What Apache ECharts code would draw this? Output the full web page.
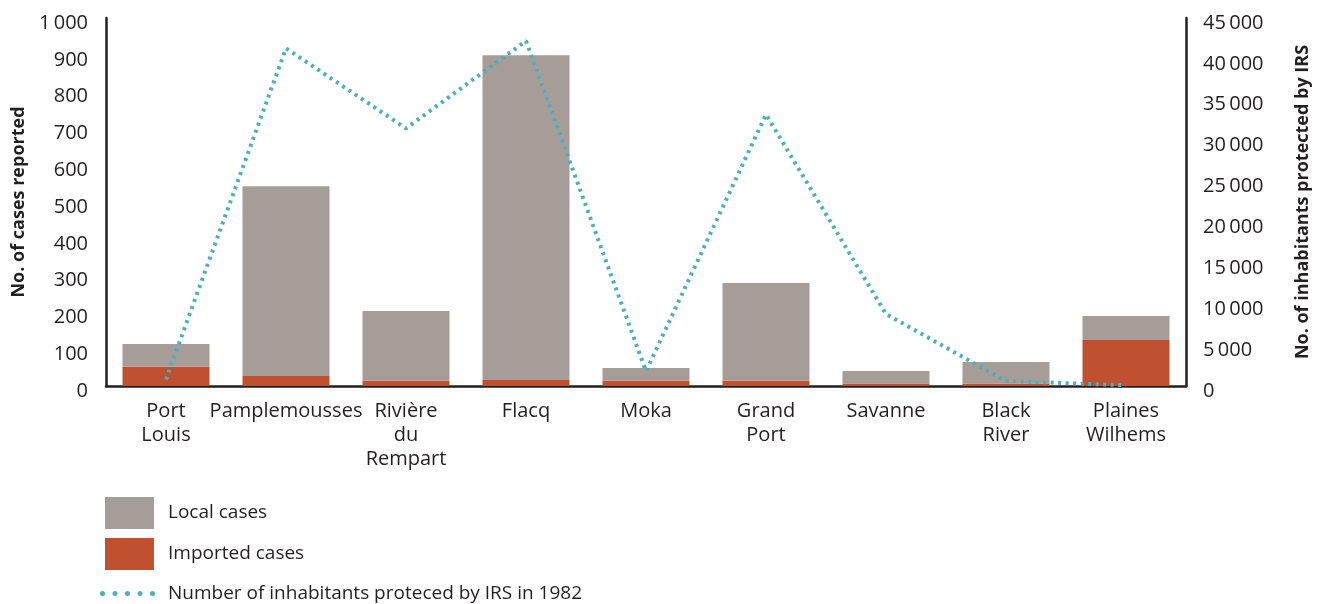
<!DOCTYPE html>
<html>
<head>
<meta charset="utf-8">
<script src="https://cdn.jsdelivr.net/npm/echarts@6/dist/echarts.min.js"></script>
<style>
  html, body { margin: 0; padding: 0; background: #fff; }
  #chart { width: 1327px; height: 604px; }
</style>
</head>
<body>
<div id="chart"></div>
<script>
const districts = ['Port\nLouis', 'Pamplemousses', 'Rivière\ndu\nRempart', 'Flacq', 'Moka', 'Grand\nPort', 'Savanne', 'Black\nRiver', 'Plaines\nWilhems']
const importedCases = [52, 27, 14, 16, 14, 14, 7, 7, 125]
const localCases = [62, 516, 190, 883, 35, 266, 34, 58, 65]
const inhabitantsIRS = [800, 41300, 31500, 42200, 1800, 33200, 8800, 600, 100]

const ink = '#231f20'
const font = '"Open Sans", "Noto Sans", sans-serif'

function spaced(v) {
  return String(v).replace(/\B(?=(\d{3})+(?!\d))/g, '\u2009')
}

// five round dots for the line legend
let dots = ''
for (let i = 0; i < 5; i++) {
  const cx = 2.5 + i * 12.5
  dots += 'M' + (cx - 2.5) + ',2.5a2.5,2.5 0 1,0 5,0a2.5,2.5 0 1,0 -5,0'
}

const chart = echarts.init(document.getElementById('chart'))

const option = {
  animation: false,
  textStyle: { fontFamily: font, color: ink },
  grid: { left: 106, right: 141, top: 18, bottom: 218 },
  legend: [
    {
      data: [{ name: 'Local cases', icon: 'rect' }, { name: 'Imported cases', icon: 'rect' }],
      orient: 'vertical',
      left: 105,
      top: 497,
      padding: 0,
      itemWidth: 49,
      itemHeight: 32,
      itemGap: 9,
      selectedMode: false,
      textStyle: { fontSize: 19, color: ink, padding: [0, 0, 0, 9] }
    },
    {
      data: [{ name: 'Number of inhabitants proteced by IRS in 1982', icon: 'path://' + dots,
               itemStyle: { color: '#4daebd', borderWidth: 0 }, lineStyle: { width: 0 } }],
      left: 100,
      top: 584,
      padding: 0,
      itemWidth: 55,
      itemHeight: 5,
      selectedMode: false,
      textStyle: { fontSize: 19, color: ink, padding: [0, 0, 0, 8] }
    }
  ],
  xAxis: {
    type: 'category',
    data: districts,
    axisLine: { lineStyle: { color: ink, width: 2.5 } },
    axisTick: { inside: true, length: 9, lineStyle: { color: ink, width: 2 } },
    axisLabel: { interval: 0, fontSize: 20, lineHeight: 24, color: ink, margin: 13 }
  },
  yAxis: [
    {
      type: 'value',
      min: 0,
      max: 1000,
      interval: 100,
      name: 'No. of cases reported',
      nameLocation: 'middle',
      nameRotate: 90,
      nameGap: 76,
      nameTextStyle: { fontSize: 18, fontWeight: 'bold', color: ink },
      axisLine: { show: true, lineStyle: { color: ink, width: 2.5 } },
      axisTick: { show: false },
      splitLine: { show: false },
      axisLabel: { fontSize: 20, color: ink, margin: 18, verticalAlign: 'top', lineHeight: 10, formatter: spaced }
    },
    {
      type: 'value',
      min: 0,
      max: 45000,
      interval: 5000,
      name: 'No. of inhabitants protected by IRS',
      nameLocation: 'middle',
      nameRotate: 90,
      nameGap: 108,
      nameTextStyle: { fontSize: 18, fontWeight: 'bold', color: ink },
      axisLine: { show: true, lineStyle: { color: ink, width: 2.5 } },
      axisTick: { show: false },
      splitLine: { show: false },
      axisLabel: { fontSize: 20, color: ink, margin: 17, verticalAlign: 'top', lineHeight: 10, formatter: spaced }
    }
  ],
  series: [
    {
      name: 'Imported cases',
      type: 'bar',
      stack: 'cases',
      barWidth: '72.5%',
      data: importedCases,
      itemStyle: { color: '#bf5030' }
    },
    {
      name: 'Local cases',
      type: 'bar',
      stack: 'cases',
      data: localCases,
      itemStyle: { color: '#a69c98' }
    },
    {
      name: 'Number of inhabitants proteced by IRS in 1982',
      type: 'line',
      yAxisIndex: 1,
      data: inhabitantsIRS,
      symbol: 'none',
      z: 5,
      itemStyle: { color: '#4daebd' },
      lineStyle: { color: '#4daebd', width: 4, type: [3, 4.5] }
    }
  ]
}

chart.setOption(option)
</script>
</body>
</html>
